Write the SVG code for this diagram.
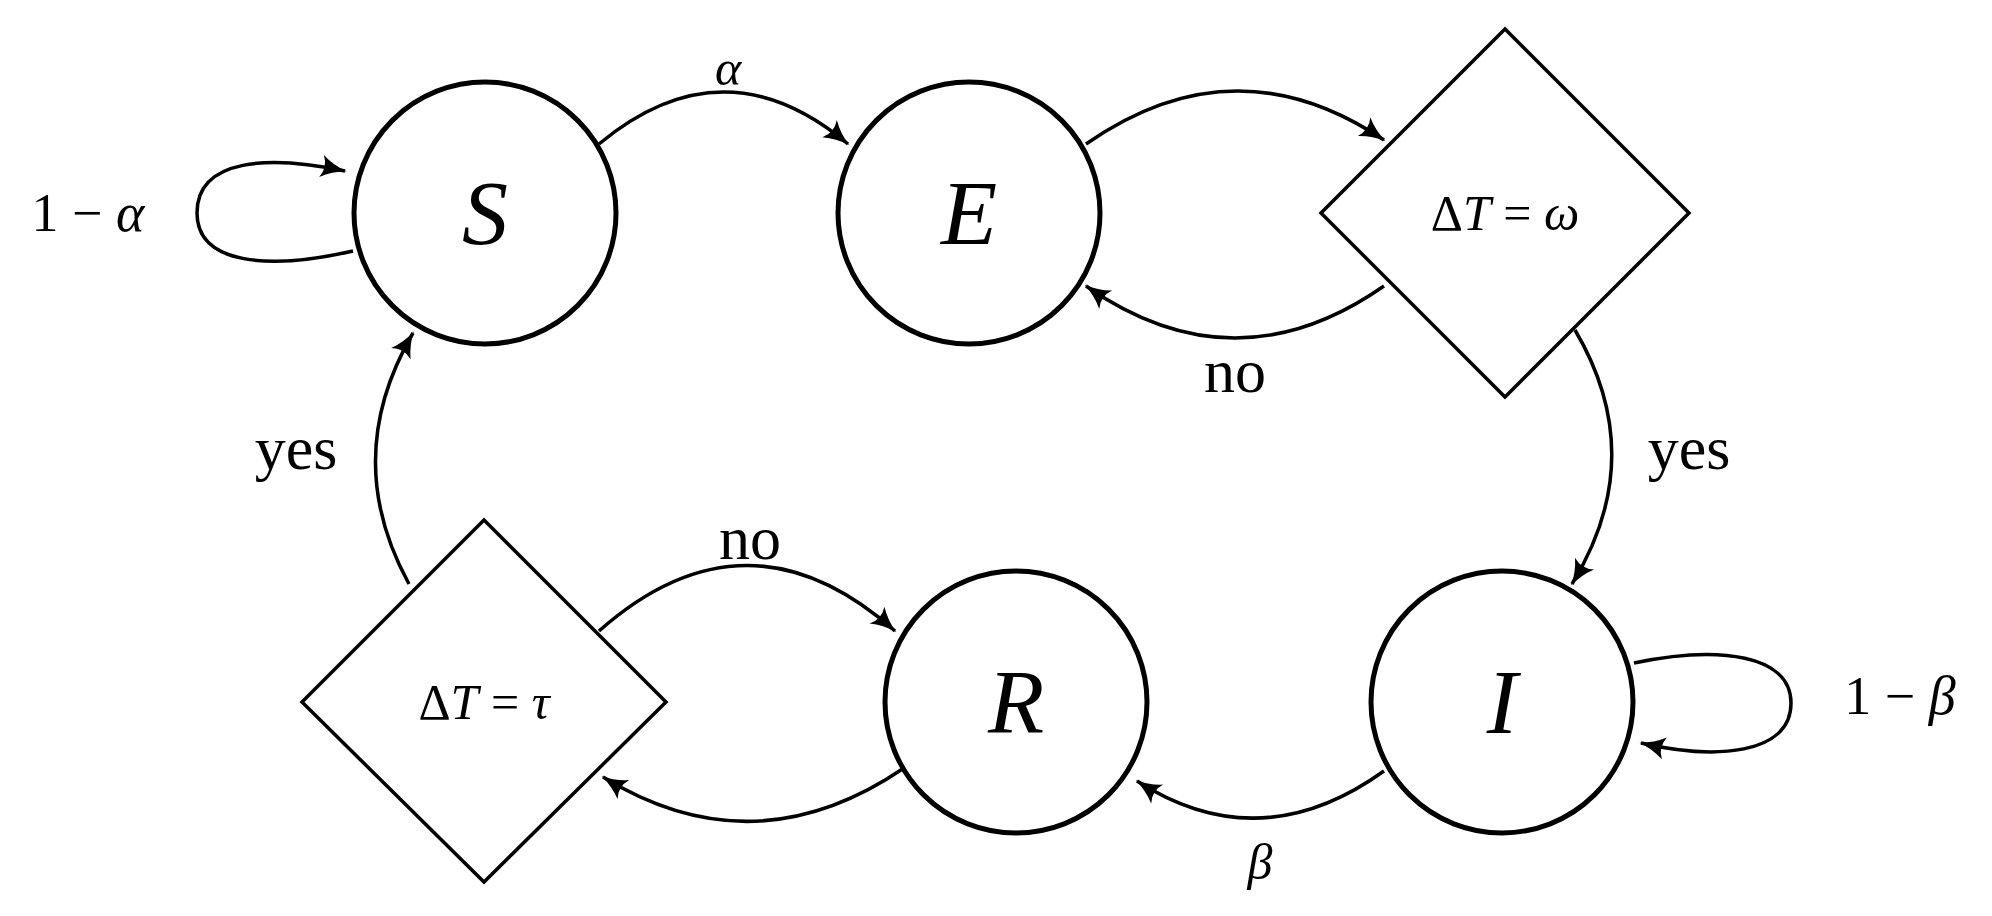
<svg xmlns="http://www.w3.org/2000/svg" width="1992" height="916" viewBox="0 0 1992 916">
<style>
.n{fill:#fff;stroke:#000;stroke-width:5}
.d{fill:#fff;stroke:#000;stroke-width:3.5}
.e{fill:none;stroke:#000;stroke-width:3.5;marker-end:url(#a)}
.m{font-family:"Liberation Serif",serif;font-style:italic;text-anchor:middle;dominant-baseline:central}
.t{font-family:"Liberation Serif",serif;text-anchor:middle;dominant-baseline:central}
</style>
<defs><marker id="a" viewBox="0 0 20 16" refX="17" refY="8" markerWidth="32" markerHeight="26" markerUnits="userSpaceOnUse" orient="auto"><path d="M2,1 Q9,6 18,8 Q9,10 2,15 Q6,8 2,1 Z" fill="#000"/></marker></defs>
<g id="connectors">
<path class="e" d="M599,144 Q724,40 848,144"/>
<path class="e" d="M1086,144 Q1235,40 1384,140"/>
<path class="e" d="M1384,286 Q1235,390 1086,286"/>
<path class="e" d="M1575,330 Q1650,457 1572,584"/>
<path class="e" d="M1384,771 Q1260,860 1137,781"/>
<path class="e" d="M904,768 Q754,870 603,777"/>
<path class="e" d="M599,631 Q747,500 895,631"/>
<path class="e" d="M409,584 Q340,458 413,333"/>
<path class="e" d="M353,251 C270,270 197,265 197,213 C197,158 270,155 345,171"/>
<path class="e" d="M1634,663 C1720,645 1791,655 1791,703 C1791,755 1715,760 1641,743"/>
<text class="m" x="728" y="68" font-size="50">α</text>
<text class="t" x="1235" y="371" font-size="62">no</text>
<text class="t" x="1689" y="448" font-size="62">yes</text>
<text class="m" x="1260" y="862" font-size="50">β</text>
<text class="t" x="750" y="538" font-size="62">no</text>
<text class="t" x="296" y="448" font-size="62">yes</text>
<text class="t" x="88" y="213" font-size="54">1 − <tspan font-style="italic">α</tspan></text>
<text class="t" x="1900" y="696" font-size="54">1 − <tspan font-style="italic">β</tspan></text>
</g>
<g id="S"><circle class="n" cx="485" cy="213" r="131"/><text class="m" x="485" y="213" font-size="92">S</text></g>
<g id="E"><circle class="n" cx="969" cy="213" r="131"/><text class="m" x="969" y="213" font-size="92">E</text></g>
<g id="omega"><polygon class="d" points="1505,29 1689,213 1505,397 1321,213"/><text class="t" x="1505" y="213" font-size="50">Δ<tspan font-style="italic">T</tspan> = <tspan font-style="italic">ω</tspan></text></g>
<g id="I"><circle class="n" cx="1502" cy="702" r="131"/><text class="m" x="1502" y="702" font-size="92">I</text></g>
<g id="R"><circle class="n" cx="1016" cy="702" r="131"/><text class="m" x="1016" y="702" font-size="92">R</text></g>
<g id="tau"><polygon class="d" points="484,520 666,702 484,882 302,702"/><text class="t" x="484" y="702" font-size="50">Δ<tspan font-style="italic">T</tspan> = <tspan font-style="italic">τ</tspan></text></g>
</svg>
